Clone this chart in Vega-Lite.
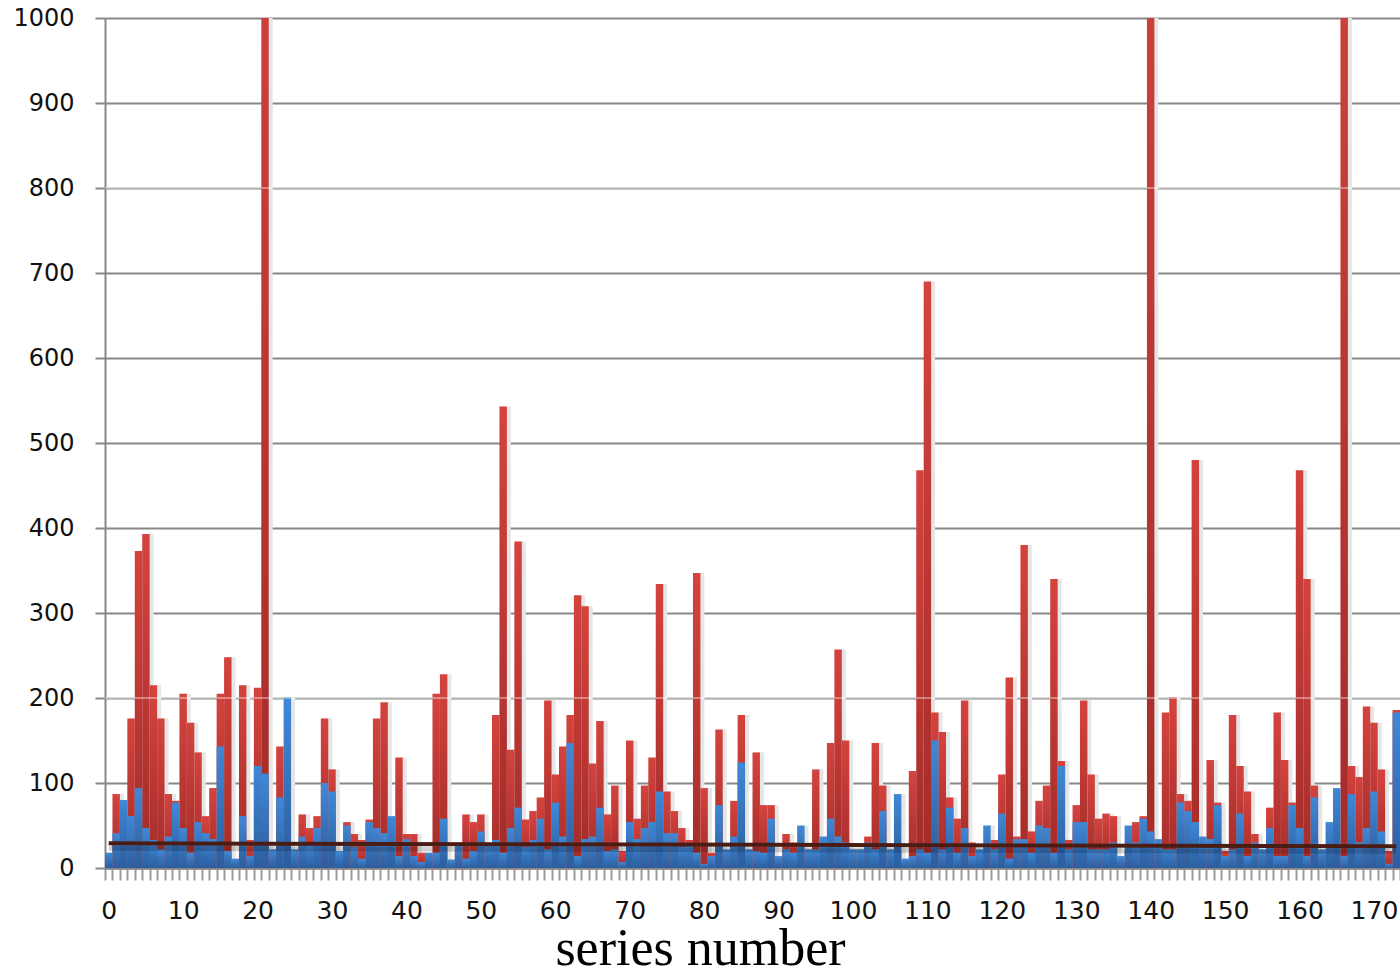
{
  "$schema": "https://vega.github.io/schema/vega-lite/v6.json",
  "width": 1295,
  "height": 850,
  "autosize": {"type": "none"},
  "padding": {"left": 105, "top": 18, "right": 0, "bottom": 102},
  "background": "white",
  "config": {
    "view": {"stroke": null},
    "font": "DejaVu Sans",
    "axisX": {
      "labelExpr": "datum.value % 10 === 0 ? datum.label : ''",
      "labelAngle": 0, "labelFont": "DejaVu Sans", "labelFontSize": 25, "labelColor": "#111",
      "labelPadding": 18, "labelOverlap": false, "tickBand": "extent", "ticks": true,
      "tickColor": "#9a9a9a", "tickWidth": 2, "tickSize": 12,
      "domainColor": "#878787", "domainWidth": 2.5, "grid": false,
      "titleFont": "Liberation Serif", "titleFontSize": 52, "titleFontWeight": "normal", "titleColor": "#000",
      "titleX": 595, "titleY": 96, "titleAlign": "center", "titleBaseline": "alphabetic"
    },
    "axisY": {
      "grid": true, "gridColor": "#878787", "gridWidth": 2,
      "domainColor": "#878787", "domainWidth": 2, "format": "d",
      "tickColor": "#878787", "tickWidth": 2, "tickSize": 10, "tickCount": 10,
      "labelFont": "DejaVu Sans", "labelFontSize": 24, "labelColor": "#111", "labelPadding": 21
    }
  },
  "datasets": {
    "series": [
      {"i":0,"red":15,"blue":18},{"i":1,"red":87,"blue":41},{"i":2,"red":30,"blue":80},{"i":3,"red":176,"blue":61},
      {"i":4,"red":373,"blue":94},{"i":5,"red":393,"blue":47},{"i":6,"red":215,"blue":33},{"i":7,"red":176,"blue":22},
      {"i":8,"red":87,"blue":37},{"i":9,"red":79,"blue":77},{"i":10,"red":205,"blue":47},{"i":11,"red":171,"blue":18},
      {"i":12,"red":136,"blue":54},{"i":13,"red":61,"blue":41},{"i":14,"red":94,"blue":34},{"i":15,"red":205,"blue":143},
      {"i":16,"red":248,"blue":20},{"i":17,"red":10,"blue":11},{"i":18,"red":215,"blue":61},{"i":19,"red":33,"blue":14},
      {"i":20,"red":212,"blue":120},{"i":21,"red":1200,"blue":111},{"i":22,"red":20,"blue":22},{"i":23,"red":143,"blue":83},
      {"i":24,"red":20,"blue":201},{"i":25,"red":20,"blue":22},{"i":26,"red":63,"blue":37},{"i":27,"red":47,"blue":27},
      {"i":28,"red":61,"blue":47},{"i":29,"red":176,"blue":100},{"i":30,"red":116,"blue":90},{"i":31,"red":15,"blue":20},
      {"i":32,"red":54,"blue":50},{"i":33,"red":40,"blue":25},{"i":34,"red":33,"blue":11},{"i":35,"red":57,"blue":54},
      {"i":36,"red":176,"blue":47},{"i":37,"red":195,"blue":41},{"i":38,"red":20,"blue":61},{"i":39,"red":130,"blue":14},
      {"i":40,"red":40,"blue":34},{"i":41,"red":40,"blue":14},{"i":42,"red":18,"blue":7},{"i":43,"red":14,"blue":18},
      {"i":44,"red":205,"blue":18},{"i":45,"red":228,"blue":58},{"i":46,"red":8,"blue":10},{"i":47,"red":20,"blue":28},
      {"i":48,"red":63,"blue":11},{"i":49,"red":54,"blue":20},{"i":50,"red":63,"blue":43},{"i":51,"red":20,"blue":29},
      {"i":52,"red":180,"blue":33},{"i":53,"red":543,"blue":18},{"i":54,"red":139,"blue":47},{"i":55,"red":384,"blue":71},
      {"i":56,"red":57,"blue":25},{"i":57,"red":67,"blue":33},{"i":58,"red":83,"blue":58},{"i":59,"red":197,"blue":22},
      {"i":60,"red":110,"blue":77},{"i":61,"red":143,"blue":37},{"i":62,"red":180,"blue":147},{"i":63,"red":321,"blue":14},
      {"i":64,"red":308,"blue":34},{"i":65,"red":123,"blue":37},{"i":66,"red":173,"blue":71},{"i":67,"red":63,"blue":20},
      {"i":68,"red":97,"blue":22},{"i":69,"red":20,"blue":7},{"i":70,"red":150,"blue":54},{"i":71,"red":58,"blue":34},
      {"i":72,"red":97,"blue":47},{"i":73,"red":130,"blue":54},{"i":74,"red":334,"blue":90},{"i":75,"red":90,"blue":41},
      {"i":76,"red":67,"blue":41},{"i":77,"red":47,"blue":25},{"i":78,"red":33,"blue":27},{"i":79,"red":347,"blue":18},
      {"i":80,"red":94,"blue":5},{"i":81,"red":18,"blue":14},{"i":82,"red":163,"blue":74},{"i":83,"red":20,"blue":22},
      {"i":84,"red":79,"blue":37},{"i":85,"red":180,"blue":124},{"i":86,"red":20,"blue":22},{"i":87,"red":136,"blue":20},
      {"i":88,"red":74,"blue":18},{"i":89,"red":74,"blue":58},{"i":90,"red":10,"blue":14},{"i":91,"red":40,"blue":22},
      {"i":92,"red":30,"blue":18},{"i":93,"red":20,"blue":50},{"i":94,"red":20,"blue":22},{"i":95,"red":116,"blue":22},
      {"i":96,"red":20,"blue":37},{"i":97,"red":147,"blue":58},{"i":98,"red":257,"blue":37},{"i":99,"red":150,"blue":30},
      {"i":100,"red":20,"blue":22},{"i":101,"red":20,"blue":22},{"i":102,"red":37,"blue":30},{"i":103,"red":147,"blue":22},
      {"i":104,"red":97,"blue":67},{"i":105,"red":20,"blue":22},{"i":106,"red":20,"blue":87},{"i":107,"red":8,"blue":11},
      {"i":108,"red":114,"blue":14},{"i":109,"red":468,"blue":22},{"i":110,"red":690,"blue":18},{"i":111,"red":183,"blue":150},
      {"i":112,"red":160,"blue":22},{"i":113,"red":83,"blue":71},{"i":114,"red":58,"blue":18},{"i":115,"red":197,"blue":47},
      {"i":116,"red":30,"blue":14},{"i":117,"red":20,"blue":22},{"i":118,"red":20,"blue":50},{"i":119,"red":33,"blue":22},
      {"i":120,"red":110,"blue":64},{"i":121,"red":224,"blue":11},{"i":122,"red":37,"blue":34},{"i":123,"red":380,"blue":34},
      {"i":124,"red":43,"blue":18},{"i":125,"red":79,"blue":50},{"i":126,"red":97,"blue":47},{"i":127,"red":340,"blue":18},
      {"i":128,"red":126,"blue":120},{"i":129,"red":33,"blue":22},{"i":130,"red":74,"blue":54},{"i":131,"red":197,"blue":54},
      {"i":132,"red":110,"blue":22},{"i":133,"red":58,"blue":22},{"i":134,"red":64,"blue":22},{"i":135,"red":61,"blue":30},
      {"i":136,"red":8,"blue":14},{"i":137,"red":20,"blue":50},{"i":138,"red":54,"blue":30},{"i":139,"red":61,"blue":58},
      {"i":140,"red":1200,"blue":43},{"i":141,"red":20,"blue":34},{"i":142,"red":183,"blue":22},{"i":143,"red":201,"blue":22},
      {"i":144,"red":87,"blue":77},{"i":145,"red":79,"blue":67},{"i":146,"red":480,"blue":54},{"i":147,"red":20,"blue":37},
      {"i":148,"red":127,"blue":34},{"i":149,"red":77,"blue":74},{"i":150,"red":20,"blue":14},{"i":151,"red":180,"blue":22},
      {"i":152,"red":120,"blue":64},{"i":153,"red":90,"blue":14},{"i":154,"red":40,"blue":30},{"i":155,"red":20,"blue":22},
      {"i":156,"red":71,"blue":47},{"i":157,"red":183,"blue":14},{"i":158,"red":127,"blue":14},{"i":159,"red":77,"blue":74},
      {"i":160,"red":468,"blue":47},{"i":161,"red":340,"blue":14},{"i":162,"red":97,"blue":83},{"i":163,"red":20,"blue":22},
      {"i":164,"red":20,"blue":54},{"i":165,"red":20,"blue":94},{"i":166,"red":1200,"blue":14},{"i":167,"red":120,"blue":87},
      {"i":168,"red":107,"blue":30},{"i":169,"red":190,"blue":47},{"i":170,"red":171,"blue":90},{"i":171,"red":116,"blue":43},
      {"i":172,"red":20,"blue":5},{"i":173,"red":186,"blue":183}
    ],
    "trend": [{"i": 0, "t": 29}, {"i": 173, "t": 25.5}],
    "hlines": [{"v": 200}, {"v": 800}]
  },
  "layer": [
    {
      "data": {"name": "series"},
      "mark": {"type": "bar", "color": "#e6e6e6", "xOffset": 4, "clip": true},
      "encoding": {
        "x": {"field": "i", "type": "ordinal", "title": "series number", "scale": {"paddingInner": 0, "paddingOuter": 0}},
        "y": {"field": "red", "type": "quantitative", "title": null, "scale": {"domain": [0, 1000], "nice": false}}
      }
    },
    {
      "data": {"name": "series"},
      "mark": {"type": "bar", "color": "#e6e6e6", "xOffset": 4, "clip": true},
      "encoding": {
        "x": {"field": "i", "type": "ordinal", "title": "series number"},
        "y": {"field": "blue", "type": "quantitative", "title": null}
      }
    },
    {
      "data": {"name": "series"},
      "mark": {"type": "bar", "clip": true,
        "color": {"gradient": "linear", "x1": 0, "y1": 0, "x2": 0, "y2": 1,
          "stops": [{"offset": 0, "color": "#d4433e"}, {"offset": 1, "color": "#a32c29"}]}},
      "encoding": {
        "x": {"field": "i", "type": "ordinal", "title": "series number"},
        "y": {"field": "red", "type": "quantitative", "title": null}
      }
    },
    {
      "data": {"name": "series"},
      "mark": {"type": "bar", "clip": true,
        "color": {"gradient": "linear", "x1": 0, "y1": 0, "x2": 0, "y2": 1,
          "stops": [{"offset": 0, "color": "#4088d6"}, {"offset": 1, "color": "#2c5e9f"}]}},
      "encoding": {
        "x": {"field": "i", "type": "ordinal", "title": "series number"},
        "y": {"field": "blue", "type": "quantitative", "title": null}
      }
    },
    {
      "data": {"name": "hlines"},
      "mark": {"type": "rule", "color": "#ffffff", "opacity": 0.5, "strokeWidth": 1.5},
      "encoding": {"y": {"field": "v", "type": "quantitative", "title": null}}
    },
    {
      "data": {"name": "trend"},
      "mark": {"type": "line", "color": "#000000", "opacity": 0.18, "strokeWidth": 5, "yOffset": 5},
      "encoding": {
        "x": {"field": "i", "type": "ordinal", "title": "series number"},
        "y": {"field": "t", "type": "quantitative", "title": null}
      }
    },
    {
      "data": {"name": "trend"},
      "mark": {"type": "line", "color": "#4a1d14", "strokeWidth": 4},
      "encoding": {
        "x": {"field": "i", "type": "ordinal", "title": "series number"},
        "y": {"field": "t", "type": "quantitative", "title": null}
      }
    }
  ]
}
